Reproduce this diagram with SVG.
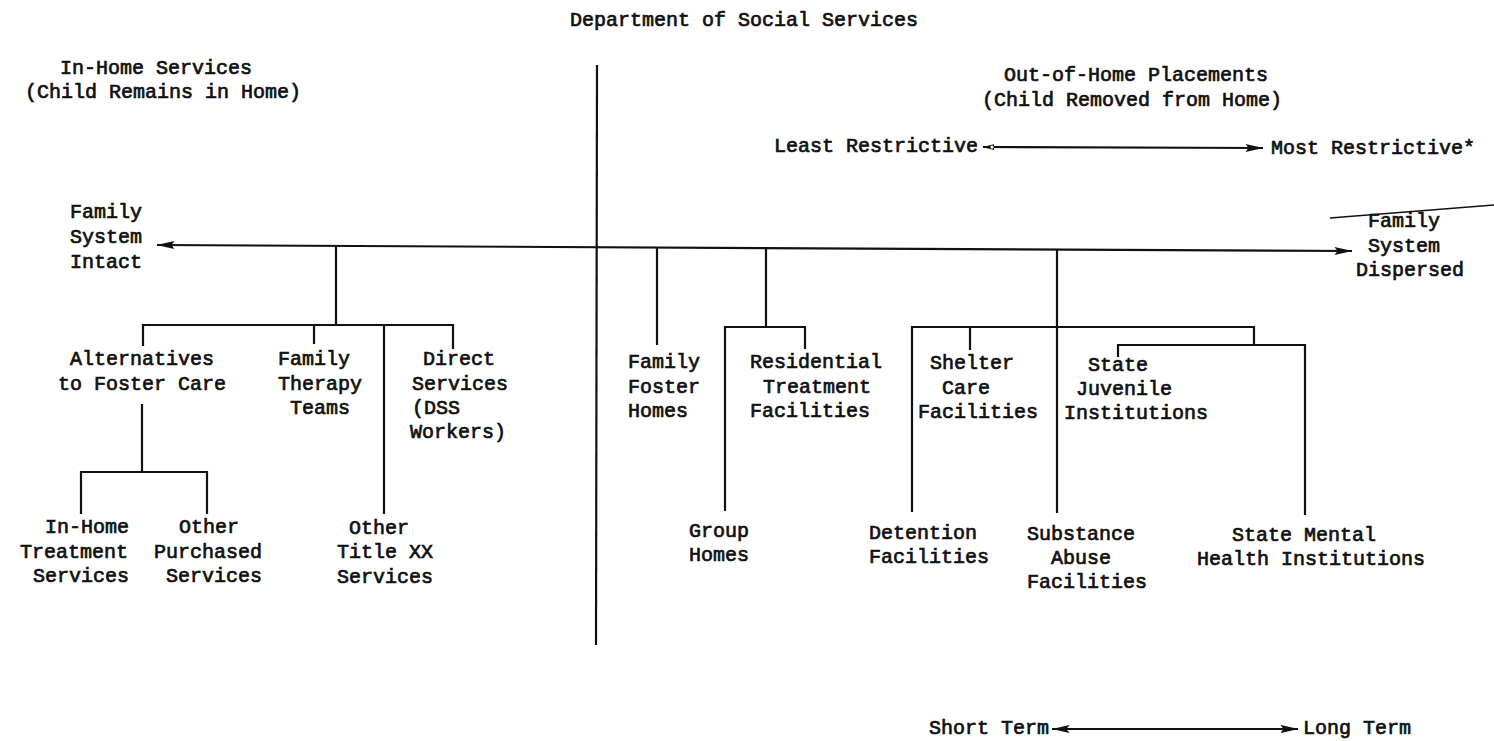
<svg xmlns="http://www.w3.org/2000/svg" width="1494" height="741" viewBox="0 0 1494 741">
<style>
text{font-family:"Liberation Mono","Courier New",monospace;font-size:20px;fill:#111;stroke:#111;stroke-width:0.7}
.m{text-anchor:middle}
.ln{stroke:#111;stroke-width:2.2;fill:none}
</style>
<defs>
<marker id="ah" viewBox="0 0 18 10" refX="17.5" refY="5" markerWidth="18" markerHeight="10" markerUnits="userSpaceOnUse" orient="auto-start-reverse">
<path d="M0,1 L18,5 L0,9 L3,5 Z" fill="#111"/>
</marker>
<marker id="ahs" viewBox="0 0 12 8" refX="11.5" refY="4" markerWidth="12" markerHeight="8" markerUnits="userSpaceOnUse" orient="auto-start-reverse">
<path d="M0,1 L12,4 L0,7 Z" fill="#111"/>
<circle cx="2.5" cy="4" r="1.6" fill="#fff"/>
</marker>
</defs>
<rect width="1494" height="741" fill="#fff"/>

<g id="headers">
<text x="744" y="26" class="m">Department of Social Services</text>
<text x="156" y="74" class="m">In-Home Services</text>
<text x="163" y="98" class="m">(Child Remains in Home)</text>
<text x="1136" y="81" class="m">Out-of-Home Placements</text>
<text x="1132" y="106" class="m">(Child Removed from Home)</text>
</g>

<g id="connectors">
<!-- divider -->
<line class="ln" x1="597" y1="65" x2="596" y2="645"/>
<!-- main axis -->
<line class="ln" x1="157" y1="245" x2="1352" y2="251" marker-start="url(#ah)" marker-end="url(#ah)"/>
<!-- left tree -->
<line class="ln" x1="336" y1="246" x2="336" y2="325"/>
<polyline class="ln" points="143,346 143,325 453,325 453,349"/>
<line class="ln" x1="314" y1="325" x2="314" y2="344"/>
<line class="ln" x1="384" y1="325" x2="384" y2="514"/>
<line class="ln" x1="142" y1="404" x2="142" y2="472"/>
<polyline class="ln" points="81,514 81,472 207,472 207,514"/>
<!-- middle tree -->
<line class="ln" x1="657" y1="247.5" x2="657" y2="345"/>
<line class="ln" x1="766" y1="248" x2="766" y2="327"/>
<polyline class="ln" points="725,511 725,327 805,327 805,349"/>
<!-- right tree -->
<line class="ln" x1="1057" y1="249.5" x2="1057" y2="513"/>
<polyline class="ln" points="912,512 912,327 1254,327 1254,345"/>
<line class="ln" x1="970" y1="327" x2="970" y2="350"/>
<polyline class="ln" points="1118,357 1118,345 1305,345 1305,515"/>
<!-- stray stroke near Family System Dispersed -->
<line x1="1330" y1="218" x2="1494" y2="205" stroke="#111" stroke-width="1.6"/>
<!-- scale arrows -->
<line class="ln" x1="983" y1="147" x2="1263" y2="148" marker-start="url(#ahs)" marker-end="url(#ah)"/>
<line class="ln" x1="1052" y1="729" x2="1298" y2="729" marker-start="url(#ah)" marker-end="url(#ah)"/>
</g>

<g id="scale-labels">
<text x="774" y="152">Least Restrictive</text>
<text x="1271" y="154">Most Restrictive*</text>
<text x="929" y="734">Short Term</text>
<text x="1303" y="734">Long Term</text>
</g>

<g id="node-family-intact">
<text x="70" y="218">Family</text>
<text x="70" y="243">System</text>
<text x="70" y="268">Intact</text>
</g>
<g id="node-family-dispersed">
<text x="1368" y="227">Family</text>
<text x="1368" y="252">System</text>
<text x="1356" y="276">Dispersed</text>
</g>

<g id="node-alternatives">
<text x="142" y="365" class="m">Alternatives</text>
<text x="142" y="390" class="m">to Foster Care</text>
</g>
<g id="node-family-therapy">
<text x="278" y="365">Family</text>
<text x="278" y="390">Therapy</text>
<text x="290" y="414">Teams</text>
</g>
<g id="node-direct-services">
<text x="423" y="365">Direct</text>
<text x="412" y="390">Services</text>
<text x="412" y="414">(DSS</text>
<text x="410" y="438">Workers)</text>
</g>
<g id="node-inhome-treatment">
<text x="45" y="533">In-Home</text>
<text x="20" y="558">Treatment</text>
<text x="33" y="582">Services</text>
</g>
<g id="node-other-purchased">
<text x="179" y="533">Other</text>
<text x="154" y="558">Purchased</text>
<text x="166" y="582">Services</text>
</g>
<g id="node-other-titlexx">
<text x="349" y="534">Other</text>
<text x="337" y="558">Title XX</text>
<text x="337" y="583">Services</text>
</g>

<g id="node-family-foster">
<text x="628" y="368">Family</text>
<text x="628" y="393">Foster</text>
<text x="628" y="417">Homes</text>
</g>
<g id="node-residential">
<text x="750" y="368">Residential</text>
<text x="763" y="393">Treatment</text>
<text x="750" y="417">Facilities</text>
</g>
<g id="node-group-homes">
<text x="689" y="537">Group</text>
<text x="689" y="561">Homes</text>
</g>
<g id="node-shelter">
<text x="930" y="369">Shelter</text>
<text x="942" y="394">Care</text>
<text x="918" y="418">Facilities</text>
</g>
<g id="node-juvenile">
<text x="1088" y="371">State</text>
<text x="1076" y="395">Juvenile</text>
<text x="1064" y="419">Institutions</text>
</g>
<g id="node-detention">
<text x="869" y="539">Detention</text>
<text x="869" y="563">Facilities</text>
</g>
<g id="node-substance">
<text x="1027" y="540">Substance</text>
<text x="1051" y="564">Abuse</text>
<text x="1027" y="588">Facilities</text>
</g>
<g id="node-mental-health">
<text x="1232" y="541">State Mental</text>
<text x="1197" y="565">Health Institutions</text>
</g>
</svg>
